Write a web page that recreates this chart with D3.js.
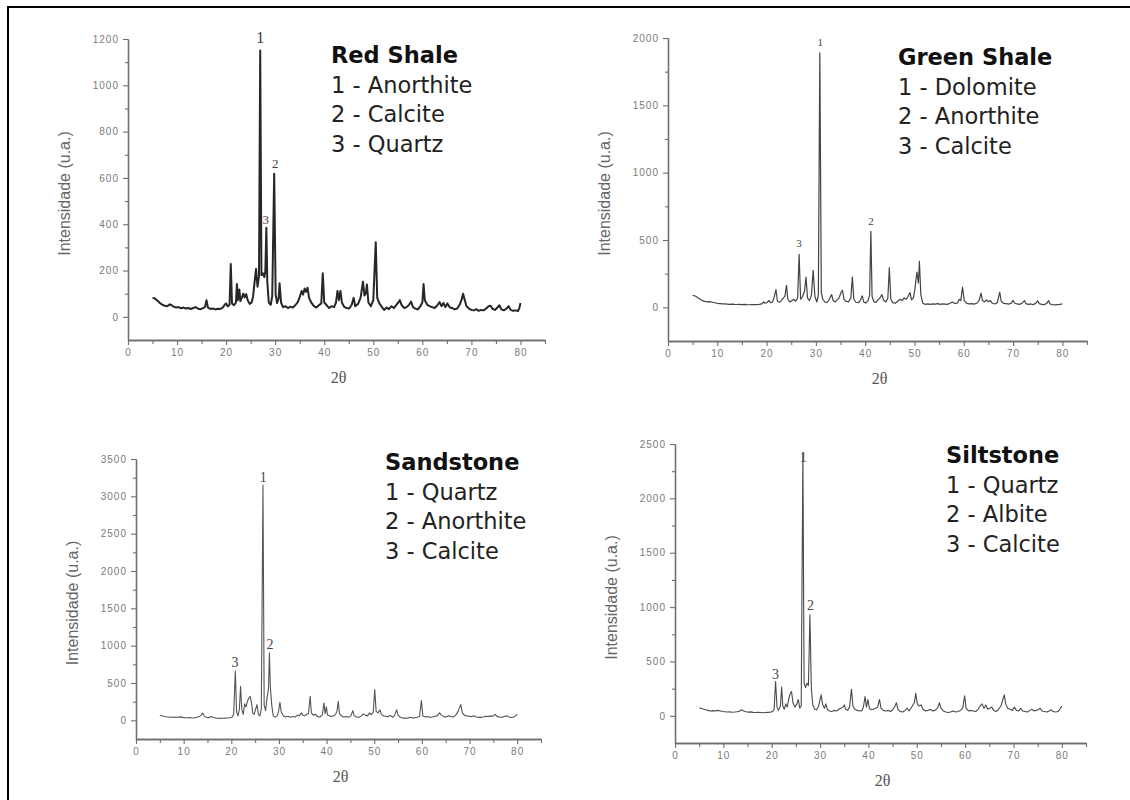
<!DOCTYPE html>
<html>
<head>
<meta charset="utf-8">
<script src="https://cdn.jsdelivr.net/npm/d3@7"></script>
<style>
  body { margin: 0; background: #fff; }
  svg { display: block; }
</style>
</head>
<body>
<svg id="chart" width="1130" height="800"></svg>
<script>
(function() {
    'use strict';

    // [2θ, intensity]
    var redShale = [[5.0,82],[5.4,80],[5.8,74],[6.2,66],[6.6,58],[7.0,52],[7.5,48],[8.0,46],[8.5,54],[8.9,50],[9.3,44],[9.8,40],[10.3,42],[10.8,37],[11.3,40],[11.8,36],[12.3,38],[12.8,34],[13.3,38],[13.8,42],[14.3,35],[14.8,33],[15.3,38],[15.7,42],[16.0,72],[16.3,40],[16.8,34],[17.3,36],[17.8,32],[18.3,35],[18.8,34],[19.3,40],[19.7,52],[20.0,58],[20.3,45],[20.7,52],[20.95,228],[21.2,58],[21.6,50],[22.0,62],[22.2,142],[22.4,72],[22.7,118],[22.9,68],[23.2,82],[23.5,100],[23.8,84],[24.1,98],[24.4,72],[24.8,56],[25.2,62],[25.5,88],[25.8,150],[26.1,207],[26.4,130],[26.7,175],[26.95,1150],[27.2,180],[27.5,188],[27.8,172],[28.0,200],[28.2,385],[28.4,150],[28.7,62],[29.1,52],[29.4,90],[29.8,618],[30.1,95],[30.4,60],[30.7,80],[30.9,145],[31.2,62],[31.6,42],[32.1,46],[32.6,38],[33.1,44],[33.6,40],[34.1,50],[34.6,64],[35.0,85],[35.4,112],[35.7,96],[36.0,122],[36.3,108],[36.6,126],[36.9,82],[37.4,60],[37.9,46],[38.4,40],[38.9,50],[39.4,58],[39.7,188],[40.0,62],[40.5,50],[41.0,38],[41.5,46],[42.0,42],[42.4,62],[42.7,112],[43.0,72],[43.3,112],[43.6,62],[44.1,42],[44.6,38],[45.1,36],[45.6,52],[46.0,82],[46.3,46],[46.9,56],[47.4,82],[47.9,152],[48.2,92],[48.5,102],[48.7,140],[49.0,62],[49.5,46],[50.0,72],[50.5,322],[50.8,82],[51.2,60],[51.7,44],[52.2,30],[52.7,40],[53.2,33],[53.7,46],[54.2,38],[54.7,52],[55.1,62],[55.4,72],[55.8,50],[56.3,38],[56.8,42],[57.3,52],[57.7,66],[58.1,42],[58.6,35],[59.1,32],[59.6,46],[60.0,62],[60.25,142],[60.5,72],[61.0,52],[61.5,46],[62.0,42],[62.5,38],[63.0,48],[63.5,64],[63.9,46],[64.3,60],[64.7,42],[65.1,58],[65.6,40],[66.1,38],[66.6,32],[67.1,36],[67.6,52],[68.0,74],[68.3,100],[68.6,76],[69.0,46],[69.5,36],[70.0,30],[70.5,28],[71.0,33],[71.5,26],[72.0,30],[72.5,28],[73.0,36],[73.5,46],[73.9,48],[74.3,35],[74.8,30],[75.3,40],[75.7,50],[76.1,32],[76.6,28],[77.1,35],[77.6,46],[78.0,30],[78.5,26],[79.0,28],[79.5,25],[79.8,40],[80.0,60]];

    var greenShale = [[5.0,88],[5.4,86],[5.8,78],[6.2,68],[6.6,58],[7.0,50],[7.5,44],[8.0,40],[8.5,42],[9.0,38],[9.5,34],[10.0,30],[10.5,28],[11.0,26],[11.5,25],[12.0,24],[12.5,22],[13.0,24],[13.5,22],[14.0,21],[14.5,22],[15.0,20],[15.5,22],[16.0,20],[16.5,19],[17.0,21],[17.5,20],[18.0,20],[18.5,22],[19.0,25],[19.4,40],[19.7,30],[20.1,36],[20.5,52],[20.8,34],[21.2,40],[21.5,70],[21.9,132],[22.2,45],[22.6,38],[23.0,50],[23.4,70],[23.7,80],[24.05,163],[24.3,60],[24.7,40],[25.1,48],[25.5,60],[25.9,45],[26.3,70],[26.6,394],[26.9,60],[27.3,80],[27.7,120],[28.0,225],[28.3,70],[28.7,50],[29.1,90],[29.45,275],[29.8,80],[30.2,40],[30.5,90],[30.8,1890],[31.1,110],[31.4,60],[31.8,40],[32.2,35],[32.6,50],[33.0,80],[33.2,95],[33.5,50],[33.9,40],[34.3,55],[34.7,70],[35.1,110],[35.4,126],[35.7,60],[36.1,45],[36.6,40],[37.1,70],[37.4,225],[37.7,60],[38.1,38],[38.6,34],[39.0,50],[39.4,85],[39.7,40],[40.1,32],[40.6,50],[40.9,90],[41.15,565],[41.4,80],[41.8,40],[42.2,36],[42.6,55],[43.0,70],[43.4,95],[43.7,55],[44.2,40],[44.6,70],[44.9,295],[45.2,60],[45.6,35],[46.1,30],[46.6,45],[47.1,60],[47.5,50],[47.9,70],[48.3,60],[48.7,80],[49.1,110],[49.4,55],[49.8,70],[50.1,140],[50.5,262],[50.8,180],[51.0,342],[51.3,90],[51.7,30],[52.2,22],[52.7,25],[53.2,22],[53.7,26],[54.2,24],[54.7,28],[55.2,22],[55.7,25],[56.2,24],[56.7,22],[57.2,30],[57.7,40],[58.2,28],[58.7,32],[59.1,60],[59.4,50],[59.75,151],[60.1,50],[60.6,30],[61.1,26],[61.6,28],[62.1,24],[62.6,30],[63.1,50],[63.5,105],[63.8,50],[64.2,40],[64.6,55],[65.0,42],[65.4,50],[65.8,30],[66.3,25],[66.8,35],[67.3,112],[67.6,45],[68.1,30],[68.6,28],[69.1,24],[69.6,30],[70.0,52],[70.3,32],[70.8,25],[71.3,22],[71.8,30],[72.3,50],[72.6,28],[73.1,22],[73.6,25],[74.1,20],[74.6,30],[75.0,48],[75.3,28],[75.8,22],[76.3,20],[76.8,28],[77.2,50],[77.5,25],[78.0,20],[78.5,18],[79.0,20],[79.5,22],[80.0,25]];

    var sandstone = [[5.0,65],[5.4,62],[5.8,55],[6.3,48],[6.8,45],[7.3,42],[7.8,44],[8.3,40],[8.8,42],[9.3,46],[9.8,40],[10.3,36],[10.8,34],[11.3,36],[11.8,32],[12.3,34],[12.8,40],[13.3,50],[13.7,70],[14.0,98],[14.3,60],[14.8,40],[15.3,34],[15.8,50],[16.2,40],[16.7,30],[17.2,28],[17.7,26],[18.2,28],[18.7,30],[19.2,32],[19.7,34],[20.2,45],[20.5,80],[20.85,660],[21.1,120],[21.4,60],[21.7,150],[21.95,455],[22.2,150],[22.5,80],[22.8,220],[23.1,180],[23.4,260],[23.7,300],[23.95,323],[24.2,250],[24.5,100],[24.8,80],[25.1,150],[25.4,210],[25.7,80],[26.0,60],[26.3,150],[26.65,3150],[26.9,200],[27.2,130],[27.5,300],[27.8,420],[28.0,905],[28.2,440],[28.5,200],[28.8,60],[29.2,45],[29.6,60],[29.9,110],[30.2,240],[30.5,110],[30.9,60],[31.4,45],[31.9,55],[32.4,40],[32.9,50],[33.4,45],[33.9,70],[34.3,60],[34.7,100],[35.0,70],[35.4,60],[35.8,80],[36.2,90],[36.55,323],[36.8,100],[37.2,70],[37.7,80],[38.1,50],[38.6,45],[39.1,70],[39.45,233],[39.7,90],[39.95,180],[40.2,70],[40.6,60],[41.1,50],[41.5,60],[41.9,80],[42.2,130],[42.45,256],[42.7,90],[43.1,60],[43.6,45],[44.1,50],[44.6,40],[45.1,60],[45.5,130],[45.8,60],[46.3,45],[46.8,40],[47.3,60],[47.7,85],[48.1,70],[48.6,60],[49.0,100],[49.4,75],[49.8,110],[50.1,413],[50.4,120],[50.8,100],[51.2,140],[51.5,80],[51.9,60],[52.4,55],[52.9,50],[53.4,65],[53.9,40],[54.3,70],[54.7,140],[55.0,70],[55.5,40],[56.0,30],[56.5,32],[57.0,28],[57.5,40],[58.0,30],[58.5,35],[59.0,40],[59.5,50],[59.9,265],[60.2,60],[60.7,45],[61.2,50],[61.7,40],[62.2,45],[62.7,55],[63.2,60],[63.7,100],[64.1,70],[64.6,50],[65.1,45],[65.6,60],[66.1,50],[66.6,45],[67.1,70],[67.6,120],[68.15,211],[68.5,100],[68.9,70],[69.4,60],[69.9,55],[70.4,50],[70.9,60],[71.4,45],[71.9,40],[72.4,40],[72.9,45],[73.4,55],[73.9,50],[74.4,60],[74.9,55],[75.4,80],[75.8,50],[76.3,45],[76.8,40],[77.3,50],[77.8,60],[78.3,45],[78.8,40],[79.3,45],[79.7,60],[80.0,80]];

    var siltstone = [[5.0,72],[5.4,70],[5.8,62],[6.3,55],[6.8,50],[7.3,45],[7.8,48],[8.3,44],[8.8,50],[9.3,46],[9.8,40],[10.3,38],[10.8,35],[11.3,37],[11.8,33],[12.3,35],[12.8,38],[13.3,42],[13.8,55],[14.2,45],[14.7,38],[15.2,34],[15.7,36],[16.2,32],[16.7,30],[17.2,32],[17.7,30],[18.2,28],[18.7,30],[19.2,32],[19.7,34],[20.2,40],[20.5,60],[20.8,315],[21.1,80],[21.4,50],[21.8,90],[22.05,264],[22.3,90],[22.6,60],[22.9,110],[23.2,80],[23.5,150],[23.8,200],[24.1,224],[24.4,120],[24.8,80],[25.2,110],[25.5,150],[25.8,70],[26.1,90],[26.45,2420],[26.7,300],[27.0,260],[27.3,300],[27.6,280],[27.9,930],[28.2,250],[28.5,100],[28.9,60],[29.3,55],[29.7,90],[30.0,150],[30.25,193],[30.5,110],[30.9,70],[31.2,110],[31.5,60],[31.9,45],[32.4,40],[32.9,50],[33.4,45],[33.9,60],[34.3,70],[34.7,80],[35.0,100],[35.3,60],[35.7,50],[36.1,80],[36.5,245],[36.8,90],[37.2,60],[37.7,50],[38.2,45],[38.7,50],[39.0,90],[39.3,178],[39.6,80],[39.9,150],[40.2,70],[40.6,55],[41.0,60],[41.5,70],[41.9,80],[42.3,150],[42.6,70],[43.1,50],[43.6,45],[44.1,50],[44.6,40],[45.1,60],[45.5,90],[45.8,120],[46.1,60],[46.6,40],[47.1,35],[47.6,50],[48.0,70],[48.4,45],[48.8,70],[49.2,100],[49.5,120],[49.8,208],[50.1,110],[50.5,90],[50.9,100],[51.3,60],[51.8,45],[52.3,50],[52.8,60],[53.3,45],[53.8,50],[54.3,70],[54.7,120],[55.0,70],[55.5,45],[56.0,35],[56.5,30],[57.0,35],[57.5,45],[58.0,35],[58.5,40],[59.0,50],[59.5,70],[59.9,184],[60.2,70],[60.7,45],[61.2,50],[61.7,45],[62.2,40],[62.7,60],[63.1,90],[63.5,110],[63.9,70],[64.3,100],[64.7,60],[65.1,70],[65.5,80],[65.9,50],[66.4,40],[66.9,60],[67.4,90],[67.8,150],[68.1,193],[68.4,110],[68.8,70],[69.3,60],[69.8,50],[70.2,80],[70.6,50],[71.1,45],[71.5,70],[71.9,45],[72.4,40],[72.9,35],[73.4,50],[73.8,60],[74.2,45],[74.7,50],[75.1,55],[75.5,70],[75.9,45],[76.4,40],[76.9,35],[77.4,45],[77.8,55],[78.2,40],[78.7,35],[79.2,40],[79.6,60],[80.0,90]];

    // legend texts
    var redShaleLegend = ["Red Shale", "1 - Anorthite", "2 - Calcite", "3 - Quartz"];
    var greenShaleLegend = ["Green Shale", "1 - Dolomite", "2 - Anorthite", "3 - Calcite"];
    var sandstoneLegend = ["Sandstone", "1 - Quartz", "2 - Anorthite", "3 - Calcite"];
    var siltstoneLegend = ["Siltstone", "1 - Quartz", "2 - Albite", "3 - Calcite"];

    // peak numbers: [label, 2θ, intensity of label baseline]
    var redShalePeaks = [["1", 26.95, 1183], ["2", 30.0, 641], ["3", 28.1, 399]];
    var greenShalePeaks = [["1", 30.9, 1940], ["2", 41.2, 610], ["3", 26.6, 446]];
    var sandstonePeaks = [["1", 26.7, 3190], ["2", 28.1, 955], ["3", 20.8, 713]];
    var siltstonePeaks = [["1", 26.5, 2335], ["2", 28.0, 974], ["3", 20.8, 343]];

    // tick values
    var xTicks = [0, 10, 20, 30, 40, 50, 60, 70, 80];
    var xMinorTicks = [5, 15, 25, 35, 45, 55, 65, 75, 85];
    var redShaleYTicks = [0, 200, 400, 600, 800, 1000, 1200];
    var greenShaleYTicks = [0, 500, 1000, 1500, 2000];
    var sandstoneYTicks = [0, 500, 1000, 1500, 2000, 2500, 3000, 3500];
    var siltstoneYTicks = [0, 500, 1000, 1500, 2000, 2500];

    var panels = [
        { data: redShale, legend: redShaleLegend, peaks: redShalePeaks, yTicks: redShaleYTicks,
          yMin: -100, xRange: [128, 545], yRange: [340, 39], legendAt: [331, 63],
          stroke: "#262626", strokeWidth: 2, peakFont: [17, 13, 13] },
        { data: greenShale, legend: greenShaleLegend, peaks: greenShalePeaks, yTicks: greenShaleYTicks,
          yMin: -250, xRange: [668, 1087], yRange: [341, 38], legendAt: [898, 65],
          stroke: "#444", strokeWidth: 1.2, peakFont: [11, 11, 11] },
        { data: sandstone, legend: sandstoneLegend, peaks: sandstonePeaks, yTicks: sandstoneYTicks,
          yMin: -250, xRange: [136, 541], yRange: [739, 459], legendAt: [385, 470],
          stroke: "#555", strokeWidth: 1.1, peakFont: [14, 14, 14] },
        { data: siltstone, legend: siltstoneLegend, peaks: siltstonePeaks, yTicks: siltstoneYTicks,
          yMin: -250, xRange: [675, 1086], yRange: [743, 444], legendAt: [946, 463],
          stroke: "#4a4a4a", strokeWidth: 1.1, peakFont: [14, 14, 14] }
    ];

    var svg = d3.select("#chart");
    var axisColor = "#6e6e6e";
    var plain = d3.format("d");

    // outer frame (top and left edges)
    svg.append("line").attr("x1", 7).attr("x2", 1130).attr("y1", 7).attr("y2", 7)
        .attr("stroke", "#000").attr("stroke-width", 2);
    svg.append("line").attr("x1", 8).attr("x2", 8).attr("y1", 6).attr("y2", 800)
        .attr("stroke", "#000").attr("stroke-width", 2);

    panels.forEach(function(p) {
        var yMax = d3.max(p.yTicks);
        var x = d3.scaleLinear().domain([0, 85]).range(p.xRange);
        var y = d3.scaleLinear().domain([p.yMin, yMax]).range(p.yRange);
        var yMinor = p.yTicks.slice(1).map(function(t, i) {
            return (t + p.yTicks[i]) / 2;
        });

        var g = svg.append("g");

        function styleAxis(sel) {
            sel.select(".domain").attr("stroke", axisColor).attr("stroke-width", 1.3);
            sel.selectAll(".tick line").attr("stroke", axisColor).attr("stroke-width", 1.1);
            sel.selectAll(".tick text")
                .attr("fill", "#7a7a7a")
                .style("font-family", "'Liberation Sans', Arial, sans-serif")
                .style("font-size", "10px")
                .style("letter-spacing", "1px");
        }

        // minor ticks first, then majors on top
        g.append("g")
            .attr("transform", "translate(0," + p.yRange[0] + ")")
            .call(d3.axisBottom(x).tickValues(xMinorTicks).tickSize(4).tickSizeOuter(0).tickFormat(""))
            .call(styleAxis);
        g.append("g")
            .attr("transform", "translate(0," + p.yRange[0] + ")")
            .call(d3.axisBottom(x).tickValues(xTicks).tickSize(5).tickSizeOuter(0).tickPadding(4).tickFormat(plain))
            .call(styleAxis);

        g.append("g")
            .attr("transform", "translate(" + p.xRange[0] + ",0)")
            .call(d3.axisLeft(y).tickValues(yMinor).tickSize(3).tickSizeOuter(0).tickFormat(""))
            .call(styleAxis);
        g.append("g")
            .attr("transform", "translate(" + p.xRange[0] + ",0)")
            .call(d3.axisLeft(y).tickValues(p.yTicks).tickSize(5).tickSizeOuter(0).tickPadding(4).tickFormat(plain))
            .call(styleAxis);

        // axis titles
        var midY = (p.yRange[0] + p.yRange[1]) / 2 + 4;
        g.append("text")
            .attr("transform", "translate(" + (p.xRange[0] - 64) + "," + midY + ") rotate(-90)")
            .attr("text-anchor", "middle")
            .attr("dominant-baseline", "central")
            .attr("fill", "#666")
            .style("font-family", "'Liberation Sans', Arial, sans-serif")
            .style("font-size", "16px")
            .text("Intensidade (u.a.)");

        g.append("text")
            .attr("x", (p.xRange[0] + p.xRange[1]) / 2 + 2)
            .attr("y", p.yRange[0] + 43)
            .attr("text-anchor", "middle")
            .attr("fill", "#555")
            .style("font-family", "'Liberation Serif', 'Times New Roman', serif")
            .style("font-size", "16px")
            .text("2θ");

        // diffractogram
        var line = d3.line()
            .x(function(d) { return x(d[0]); })
            .y(function(d) { return y(d[1]); });

        g.append("path")
            .datum(p.data)
            .attr("d", line)
            .attr("fill", "none")
            .attr("stroke", p.stroke)
            .attr("stroke-width", p.strokeWidth)
            .attr("stroke-linejoin", "round");

        // peak numbers
        g.selectAll(".peak")
            .data(p.peaks)
            .enter().append("text")
            .attr("class", "peak")
            .attr("x", function(d) { return x(d[1]); })
            .attr("y", function(d) { return y(d[2]); })
            .attr("text-anchor", "middle")
            .attr("fill", "#444")
            .style("font-family", "'Liberation Serif', 'Times New Roman', serif")
            .style("font-size", function(d, i) { return p.peakFont[i] + "px"; })
            .text(function(d) { return d[0]; });

        // legend block
        g.selectAll(".legend")
            .data(p.legend)
            .enter().append("text")
            .attr("class", "legend")
            .attr("x", p.legendAt[0])
            .attr("y", function(d, i) { return p.legendAt[1] + i * 29.7; })
            .attr("fill", function(d, i) { return i === 0 ? "#111" : "#222"; })
            .style("font-family", "'DejaVu Sans', Verdana, sans-serif")
            .style("font-size", "22.5px")
            .style("font-weight", function(d, i) { return i === 0 ? "bold" : "normal"; })
            .text(function(d) { return d; });
    });

})();
</script>
</body>
</html>
